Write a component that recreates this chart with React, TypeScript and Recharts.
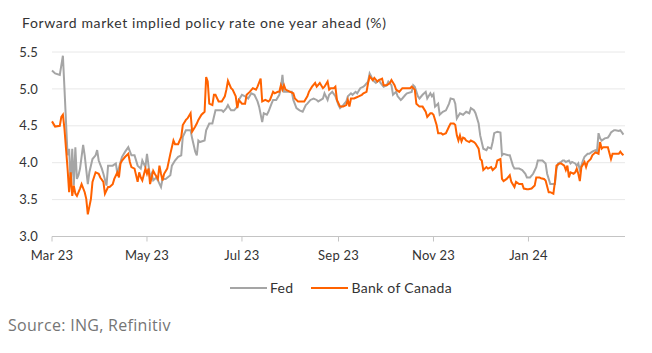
import React from 'react';
import { LineChart, Line, XAxis, YAxis, CartesianGrid } from 'recharts';

const title = 'Forward market implied policy rate one year ahead (%)';
const source = 'Source: ING, Refinitiv';
const seriesNames = ['Fed', 'Bank of Canada'];
const seriesColors = ['#a5a5a5', '#ff6200'];

const START = Date.UTC(2023, 2, 1);
const DAY = 86400000;
const tickDates = ['2023-03-01', '2023-05-01', '2023-07-01', '2023-09-01', '2023-11-01', '2024-01-01'];
const tickLabels = ['Mar 23', 'May 23', 'Jul 23', 'Sep 23', 'Nov 23', 'Jan 24'];
const lastDate = '2024-03-03';
const yTicks = [3.0, 3.5, 4.0, 4.5, 5.0, 5.5];

// [days since 1 Mar 2023, rate %]
const fedSeries: [number, number][] = [
  [0,5.25],[2,5.21],[5,5.19],[7,5.45],[8,5.01],[9,4.55],[10,4.10],[11,4.19],[12,3.69],[13,4.19],[14,3.69],[15,4.21],[16,3.78],[17,3.83],[18,3.92],[20,4.24],[21,4.10],[23,3.71],[24,3.87],[26,4.05],[28,4.10],[29,4.17],[30,4.03],[32,3.92],[33,3.85],[35,3.69],[36,3.96],[37,3.96],[39,3.96],[41,3.99],[42,3.85],[44,4.01],[45,4.08],[47,4.15],[49,4.21],[51,4.10],[53,4.10],[55,3.96],[57,3.92],[58,4.03],[60,3.94],[61,4.12],[63,3.80],[64,3.85],[65,3.76],[67,3.80],[68,3.76],[70,3.67],[71,3.78],[73,3.78],[76,3.83],[77,3.96],[79,4.03],[81,4.08],[83,4.10],[84,4.35],[86,4.44],[88,4.44],[89,4.44],[90,4.33],[92,4.15],[93,4.10],[94,4.30],[95,4.28],[98,4.30],[99,4.44],[101,4.53],[103,4.53],[105,4.71],[107,4.71],[109,4.71],[110,4.69],[112,4.74],[113,4.78],[114,4.74],[115,4.71],[117,4.71],[119,4.76],[120,4.85],[122,4.92],[124,4.90],
  [126,4.87],[128,4.94],[130,4.92],[132,4.83],[133,4.76],[135,4.55],[136,4.67],[138,4.65],[139,4.69],[141,4.80],[142,4.85],[144,4.85],[146,4.92],[147,5.01],[148,5.19],[149,4.96],[152,4.96],[154,4.96],[155,4.85],[157,4.74],[159,4.71],[161,4.69],[163,4.78],[164,4.80],[166,4.85],[168,4.87],[170,4.85],[171,4.83],[174,4.87],[175,4.94],[177,4.85],[178,4.92],[180,4.96],[182,4.90],[184,4.78],[185,4.74],[187,4.78],[189,4.83],[190,4.90],[192,4.94],[193,4.92],[195,4.96],[196,4.94],[198,5.01],[200,5.03],[201,5.05],[203,5.10],[204,5.21],[205,5.17],[206,5.12],[208,5.08],[210,5.12],[211,5.08],[213,5.03],[215,5.05],[216,5.10],[218,5.05],[219,4.92],[221,4.96],[222,4.90],[224,4.85],[225,4.87],[227,4.92],[228,4.94],[231,4.96],[232,5.05],[233,5.03],[235,4.90],[236,4.87],[238,4.92],[240,4.96],[241,4.87],[243,4.94],[244,4.90],
  [245,4.93],[246,4.76],[248,4.80],[249,4.65],[251,4.69],[253,4.71],[255,4.80],[256,4.87],[258,4.86],[259,4.80],[260,4.60],[262,4.67],[264,4.65],[266,4.69],[268,4.67],[269,4.74],[271,4.71],[272,4.67],[274,4.53],[275,4.37],[277,4.19],[279,4.17],[280,4.21],[282,4.19],[283,4.28],[284,4.40],[286,4.42],[288,4.41],[289,4.10],[290,4.12],[293,4.10],[294,4.10],[296,3.96],[297,3.92],[299,3.92],[300,3.92],[302,3.90],[304,3.85],[305,3.80],[307,3.80],[309,3.85],[311,3.94],[312,4.03],[314,4.03],[315,4.03],[317,3.99],[318,3.85],[320,3.71],[321,3.71],[323,3.71],[324,3.92],[325,3.99],[327,4.01],[328,4.03],[329,4.03],[330,4.01],[332,4.03],[333,3.99],[334,4.01],[336,3.99],[337,3.96],[338,3.99],[339,3.90],[341,4.03],[342,4.08],[344,4.12],[345,4.12],[347,4.15],[349,4.17],[350,4.15],[351,4.40],[352,4.33],[353,4.30],[355,4.33],[357,4.34],[358,4.37],[359,4.41],[361,4.44],[362,4.44],[364,4.43],[365,4.44],[366,4.41],[367,4.38],
];

const bocSeries: [number, number][] = [
  [0,4.56],[2,4.49],[5,4.50],[6,4.62],[7,4.65],[8,4.46],[9,4.19],[10,3.92],[11,3.60],[12,3.87],[13,3.55],[14,3.69],[15,3.58],[16,3.55],[18,3.65],[19,3.71],[21,3.60],[22,3.51],[23,3.30],[25,3.51],[26,3.74],[28,3.87],[30,3.85],[31,3.80],[33,3.74],[34,3.58],[36,3.67],[37,3.67],[39,3.71],[40,3.78],[42,3.87],[43,3.80],[44,3.99],[45,4.03],[47,4.08],[49,4.12],[50,4.01],[51,3.94],[53,3.92],[55,3.74],[56,3.87],[57,3.80],[58,3.76],[60,3.92],[61,3.85],[62,3.92],[63,3.71],[65,3.89],[66,3.85],[68,3.78],[69,3.96],[70,3.85],[71,3.76],[72,3.85],[74,3.92],[76,4.12],[78,4.30],[79,4.25],[81,4.25],[83,4.35],[84,4.51],[86,4.58],[87,4.60],[89,4.67],[90,4.42],[92,4.49],[93,4.53],[94,4.58],[96,4.65],[98,4.69],[99,5.16],[100,5.10],[101,4.80],[103,4.78],[104,4.92],[105,4.92],[107,4.83],[109,4.83],[111,4.90],[112,4.99],[113,5.11],[115,5.01],[116,4.99],[118,4.90],[119,4.74],[120,4.85],[122,4.80],[124,4.80],
  [125,4.92],[127,4.96],[129,5.01],[131,4.99],[132,5.03],[134,5.14],[135,4.83],[137,4.85],[139,4.83],[140,4.85],[142,4.96],[143,4.94],[145,4.96],[146,4.96],[147,5.05],[148,4.99],[149,5.05],[150,4.99],[153,4.96],[155,4.94],[156,4.87],[158,4.83],[160,4.83],[162,4.83],[164,4.90],[165,4.96],[167,5.03],[169,5.08],[170,5.03],[172,5.08],[174,5.01],[175,5.03],[177,5.10],[178,4.99],[179,5.01],[181,5.01],[182,5.03],[183,4.85],[185,4.76],[187,4.76],[189,4.78],[190,4.85],[191,4.76],[192,4.87],[194,4.87],[195,4.88],[197,4.90],[199,4.92],[200,4.94],[202,4.96],[203,5.08],[204,5.17],[206,5.12],[207,5.15],[209,5.10],[210,5.12],[212,5.14],[213,5.05],[215,5.05],[217,5.08],[218,5.12],[220,5.05],[221,4.99],[223,4.96],[225,5.01],[226,5.01],[228,5.01],[230,5.01],[231,5.03],[233,4.99],[234,4.80],[236,4.76],[238,4.76],[240,4.69],[241,4.62],[243,4.67],
  [244,4.67],[245,4.65],[247,4.51],[248,4.40],[250,4.40],[251,4.38],[253,4.40],[255,4.49],[256,4.53],[258,4.53],[259,4.51],[260,4.37],[261,4.30],[262,4.37],[263,4.29],[264,4.34],[265,4.33],[266,4.30],[268,4.28],[269,4.30],[271,4.28],[272,4.26],[274,4.19],[275,4.05],[276,4.03],[277,3.90],[279,3.94],[280,3.92],[282,3.94],[283,3.90],[285,3.94],[286,4.03],[288,4.05],[289,3.78],[290,3.75],[292,3.78],[294,3.83],[295,3.74],[297,3.67],[298,3.74],[300,3.71],[302,3.71],[303,3.65],[305,3.64],[306,3.64],[308,3.65],[310,3.69],[311,3.80],[313,3.80],[314,3.79],[316,3.78],[317,3.76],[319,3.60],[320,3.60],[322,3.58],[323,3.74],[324,3.96],[326,3.99],[327,3.99],[329,3.96],[330,3.90],[331,3.96],[332,3.80],[333,3.87],[335,3.85],[336,3.87],[337,3.92],[338,3.85],[339,3.75],[340,3.94],[342,4.01],[343,3.94],[344,4.01],[346,4.05],[347,4.10],[349,4.14],[351,4.12],[352,4.28],[353,4.19],[354,4.21],[355,4.21],[357,4.21],[359,4.05],[360,4.12],[362,4.12],[364,4.12],[365,4.15],[366,4.12],[367,4.10],
];

const toDay = (iso: string) => Math.round((Date.parse(iso + 'T00:00:00Z') - START) / DAY);
const tickDays = tickDates.map(toDay);
const fedData = fedSeries.map(([d, v]) => ({ d, v }));
const bocData = bocSeries.map(([d, v]) => ({ d, v }));

const FONT = 'Lato, "Open Sans", sans-serif';

export default function App() {
  return (
    <div style={{ position: 'absolute', left: 0, top: 0, width: 652, height: 353, background: '#fff', fontFamily: FONT, overflow: 'hidden' }}>
      <div style={{ position: 'absolute', left: 22, top: 14, fontSize: 14, letterSpacing: 0.62, lineHeight: '18px', color: '#333', whiteSpace: 'nowrap' }}>{title}</div>
      <div style={{ position: 'absolute', left: 0, top: 0 }}>
        <LineChart width={652} height={300} margin={{ top: 52, right: 27, left: 0, bottom: 33.5 }}>
          <CartesianGrid horizontal vertical={false} stroke="#e8e8e8" />
          <XAxis
            type="number"
            dataKey="d"
            domain={[0, toDay(lastDate)]}
            ticks={tickDays}
            tickFormatter={(v: number) => tickLabels[tickDays.indexOf(v)]}
            height={30}
            stroke="#c4c4c4"
            tickSize={5}
            tickMargin={9}
            tick={{ fill: '#333', fontSize: 13, fontFamily: FONT, letterSpacing: 0.2 }}
            allowDuplicatedCategory={false}
          />
          <YAxis
            type="number"
            domain={[3, 5.5]}
            ticks={yTicks}
            tickFormatter={(v: number) => v.toFixed(1)}
            width={52}
            axisLine={false}
            tickLine={false}
            tickSize={6}
            tickMargin={8}
            tick={{ fill: '#333', fontSize: 13, fontFamily: FONT, letterSpacing: 0.2 }}
          />
          <Line data={fedData} dataKey="v" name={seriesNames[0]} stroke={seriesColors[0]} strokeWidth={2} dot={false} isAnimationActive={false} type="linear" />
          <Line data={bocData} dataKey="v" name={seriesNames[1]} stroke={seriesColors[1]} strokeWidth={2} dot={false} isAnimationActive={false} type="linear" />
        </LineChart>
      </div>
      <div style={{ position: 'absolute', top: 279, left: 230, display: 'flex', alignItems: 'center', fontSize: 14, letterSpacing: 0.3, color: '#333', lineHeight: '18px', whiteSpace: 'nowrap' }}>
        {seriesNames.map((n, i) => (
          <div key={n} style={{ display: 'flex', alignItems: 'center', marginRight: i === 0 ? 18 : 0 }}>
            <svg width={37} height={4} style={{ marginRight: 3 }}>
              <line x1={0} y1={2} x2={37} y2={2} stroke={seriesColors[i]} strokeWidth={2} />
            </svg>
            <span>{n}</span>
          </div>
        ))}
      </div>
      <div style={{ position: 'absolute', left: 8, top: 315, fontSize: 16, letterSpacing: 0.3, lineHeight: '20px', color: '#757575', fontFamily: '"Open Sans", sans-serif', whiteSpace: 'nowrap' }}>{source}</div>
    </div>
  );
}
